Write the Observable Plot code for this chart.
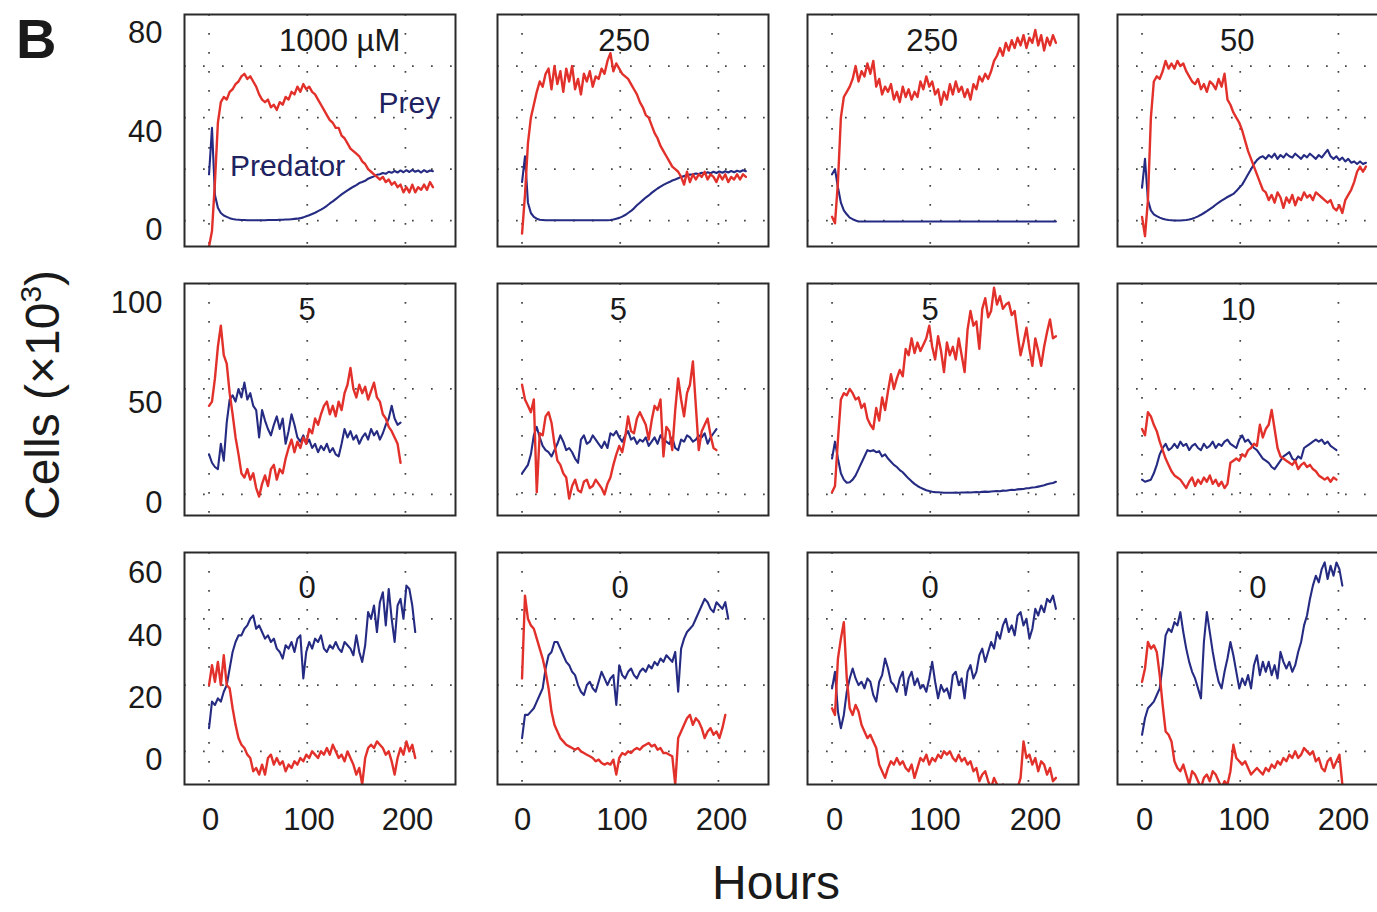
<!DOCTYPE html>
<html><head><meta charset="utf-8">
<script src="https://cdn.jsdelivr.net/npm/d3@7"></script>
<script src="https://cdn.jsdelivr.net/npm/@observablehq/plot@0.6"></script>
<style>
html,body{margin:0;padding:0;background:#fff;overflow:hidden;}
#root{position:relative;width:1377px;height:912px;overflow:hidden;font-family:"Liberation Sans",Arial,sans-serif;background:#fff;}
#root svg{position:absolute;left:0;top:0;max-width:none !important;background:transparent !important;overflow:visible;}
.lbl{position:absolute;color:#1a1a1a;white-space:nowrap;line-height:1;}
</style></head><body><div id="root"></div>
<script>
// ---------- data ----------
const STEP = 3; // hours between samples
const titles = ["1000 µM","250","250","50","5","5","5","10","0","0","0","0"];
const titleHours = [133,104,102,97,100,98,100,98,100,100,100,118];
const yDomains = [[-10,80],[-10,100],[-10,60]];
const yGrid = [[0,20,40,60],[0,50],[0,20,40]];
const yLabelTicks = [[0,40,80],[0,50,100],[0,20,40,60]];
const xTicks = [0,100,200];
const annoText = ["Prey","Predator"];
const annoHour = [204, 80];
const annoCells = [45.5, 21];

const prey1 = [-10,-4,15,38,46,48,47,50,51,53,54,56,57,55,56,54,52,49,47,46,47,44,45,43,46,45,48,47,50,49,52,50,53,51,52,50,49,47,45,43,41,39,38,36,36,33,32,30,28,27,26,25,23,22,20,19,18,17,16,17,15,16,14,15,13,14,11,13,11,14,11,13,12,14,12,15,13];
const pred1 = [18,36,10,5,3,2,1.5,1,0.7,0.5,0.4,0.3,0.3,0.2,0.2,0.2,0.2,0.2,0.2,0.2,0.3,0.3,0.3,0.3,0.4,0.4,0.5,0.5,0.6,0.7,0.8,1.0,1.3,1.7,2.1,2.6,3.1,3.7,4.3,5.0,5.8,6.7,7.5,8.4,9.3,10.2,11,11.8,12.5,13.2,13.8,14.6,15,15.5,16.3,16.8,17.2,17.8,18,18.5,18.2,19,18.6,19.3,18.7,19.5,18.8,19.6,18.9,19.7,19,19.5,18.7,19.6,18.9,19.5,19.2];
const prey2 = [-5,10,30,40,45,50,54,52,57,59,51,60,53,58,50,59,54,60,51,55,49,57,54,58,52,56,55,59,57,62,65,58,61,59,57,56,55,53,51,49,46,44,41,40,37,34,32,29,27,25,23,21,20,19,17,14,19,15,18,16,18,17,19,16,18,17,15,18,16,18,15,17,16,18,16,18,17];
const pred2 = [15,25,7,3,1.5,0.8,0.4,0.3,0.2,0.2,0.2,0.2,0.2,0.2,0.2,0.2,0.2,0.2,0.2,0.2,0.2,0.2,0.2,0.2,0.2,0.2,0.2,0.2,0.2,0.2,0.3,0.5,0.8,1.1,1.6,2.2,3,3.8,4.8,6,7,8,9,9.8,10.8,11.7,12.5,13.2,13.9,14.5,15,15.6,16,16.5,17,17.3,17.6,17.9,18,18.3,18.1,18.6,18.2,18.8,18.4,19,18.5,19.1,18.6,19.2,18.7,19.3,18.8,19.4,19,19.6,19.2];
const prey3 = [1.5,-1,15,40,48,50,52,55,60,54,58,56,61,57,62,52,55,49,52,50,53,47,50,46,52,48,51,47,50,48,54,51,56,52,54,49,51,45,50,47,53,49,54,50,52,48,51,47,53,51,56,54,57,55,58,62,64,67,64,69,66,70,67,71,68,72,67,71,69,74,68,72,66,71,68,72,69];
const pred3 = [18,20,13,7,4,2.5,1.2,0.6,0.1,-0.3,-0.3,-0.3,-0.3,-0.3,-0.3,-0.3,-0.3,-0.3,-0.3,-0.3,-0.3,-0.3,-0.3,-0.3,-0.3,-0.3,-0.3,-0.3,-0.3,-0.3,-0.3,-0.3,-0.3,-0.3,-0.3,-0.3,-0.3,-0.3,-0.3,-0.3,-0.3,-0.3,-0.3,-0.3,-0.3,-0.3,-0.3,-0.3,-0.3,-0.3,-0.3,-0.3,-0.3,-0.3,-0.3,-0.3,-0.3,-0.3,-0.3,-0.3,-0.3,-0.3,-0.3,-0.3,-0.3,-0.3,-0.3,-0.3,-0.3,-0.3,-0.3,-0.3,-0.3,-0.3,-0.3,-0.3,-0.3];
const prey4 = [1.5,-6,8,40,54,56,55,58,62,59,61,59,62,60,61,58,56,54,53,55,51,53,50,54,53,51,55,52,57,47,45,42,40,38,35,31,27,24,21,18,15,12,11,8,10,7,11,9,5,9,7,10,6,9,8,11,9,10,8,11,10,9,8,7,8,5,4,6,3,8,10,12,15,19,21,19,21];
const pred4 = [12.8,24,8,4,2.5,1.8,1.2,0.8,0.5,0.3,0.2,0.1,0.1,0.1,0.2,0.3,0.5,0.8,1.2,1.7,2.3,3,3.7,4.5,5.3,6.2,7,7.8,8.5,9.2,9.8,10.4,11.5,12.8,14,16,18,20,22,23.5,24.5,25,24,25.5,24.5,26,24,25.5,24.5,26,25,24.5,26,25,24,25.5,24.6,26,25,24,25.5,24.5,26,27.5,25,24,25,23.5,24.5,23,24,22.5,23,22,23,22,22.5];

const prey5 = [42,44,55,70,80,66,62,48,38,27,19,10,8,12,7,10,3,-1,5,9,4,12,14,7,12,10,17,22,26,20,25,22,27,24,31,29,36,33,38,42,44,38,42,37,44,40,48,52,60,50,46,52,48,51,45,49,53,46,44,38,36,32,30,27,24,15];
const pred5 = [19,15,13,12,24,16,34,45,47,44,50,46,53,45,48,42,40,27,40,35,31,28,33,37,31,36,24,30,38,33,27,25,28,24,26,22,24,20,23,21,24,20,22,19,18,24,31,27,30,26,28,24,27,29,26,31,28,30,26,29,33,36,42,36,33,34];
const prey6 = [52,45,42,39,45,1,29,28,37,39,34,24,16,14,10,8,-2,4,7,2,1,6,7,3,4,7,5,3,0,5,8,14,19,23,20,27,37,30,29,36,39,36,33,26,35,42,40,45,18,32,30,21,40,55,45,37,48,52,63,42,21,30,33,36,28,22,21];
const pred6 = [10,12,14,19,28,32,27,23,21,20,18,21,24,28,25,21,22,20,17,15,26,28,24,25,28,26,24,22,25,22,29,28,30,27,25,28,30,26,27,24,26,25,27,23,25,27,24,28,26,25,24,27,22,21,26,25,28,27,25,26,28,27,29,24,27,29,31];
const prey7 = [1,4,26,45,48,47,50,48,45,46,41,43,36,33,31,41,35,46,40,49,57,50,55,59,56,69,66,74,67,72,68,71,74,80,70,64,75,68,58,72,66,70,64,74,66,58,78,87,80,82,69,88,93,84,87,98,90,94,88,90,91,85,87,76,66,72,79,69,61,74,68,61,70,77,83,74,75];
const pred7 = [17,25,17,10,7,5.5,5.8,7,9,12,15,18,21,20.5,21,20,20.5,18,19,17,15.5,14,13,11.5,10.5,9,7.5,6.2,5,4,3.2,2.6,2,1.6,1.3,1.1,1,0.9,0.8,0.8,0.8,0.8,0.9,0.8,0.9,0.9,1,0.9,1,1.1,1,1.2,1.3,1.2,1.4,1.5,1.6,1.5,1.8,1.7,2,2.2,2.1,2.4,2.5,2.6,2.9,3,3.3,3.4,3.7,4,4.3,4.8,5.2,5.4,6];
const prey8 = [31,28,39,37,33,30,25,21,17,14,11,9,8,7,5,3,6,8,4,7,5,8,6,9,5,7,4,6,3,5,15,16,17,16,19,18,21,22,24,23,33,27,31,33,40,31,22,18,17,16,15,14,16,12,14,15,13,14,12,11,9,8,7,8,6,8,7];
const pred8 = [7,6,6.5,7,10,14,19,22,24,21,22,24,22,25,23,24,21,23,24,22,21,24,22,23,25,22,24,23,25,26,24,23,22,26,28,25,26,24,22,21,19,17,16,15,13,12,14,16,18,19,20,17,16,18,17,22,23,24,25,26,25,26,24,25,23,22,21];

const prey9 = [20,26,21,27,20,29,20,19,13,8,4,2,1,-1,-2,-6,-5,-7,-4,-7,-2,-1,-4,-2,-4,-3,-6,-4,-5,-3,-4,-2,-3,-1,-2,0,-1,-2,0,-1,1,-1,2,0,-2,-1,-3,0,-2,-4,-7,-5,-10,-2,1,2,1,3,2,1,-1,0,-3,-7,-2,1,-1,3,0,2,-2];
const pred9 = [7,15,14,16,15,18,20,25,30,33,35,35,37,38,40,41,37,38,36,34,35,33,34,31,30,28,32,31,33,30,34,35,22,30,33,31,34,33,35,31,30,32,31,33,31,30,33,32,31,29,35,30,27,32,42,40,44,36,45,48,38,49,40,33,44,46,40,50,49,44,36];
const prey10 = [22,47,40,38,37,34,31,28,24,19,12,8,6,4,3,2,1.5,1,0.5,1,0,-0.5,-1,-1.5,-2,-3,-2.5,-3.5,-4,-3.5,-4,-2.5,-7,-2,-0.5,-1,0,-0.5,0.5,1,0.5,1.5,2,2.5,1.5,2,0.5,1,-0.5,-0.5,-1,-1.5,-10,4,6,8,10,11,8,10,9,7,4,6,7,5,6,4,7,11];
const pred10 = [4,11,11,12,13,15,17,19,25,29,30,33,33,31,29,27,26,24,23,20,18,17,20,21,19,18,21,24,22,20,22,23,14,26,23,22,24,25,23,22,24,25,24,26,25,27,26,28,27,29,28,27,30,18,31,34,36,37,38,40,42,44,46,45,43,42,45,44,43,45,40];
const prey11 = [13,11,28,34,39,22,13,11,14,12,8,6,4,5,3,1,-4,-6,-8,-5,-3,-4,-2,-4,-3,-5,-6,-4,-8,-5,-2,-3,-1,-4,-2,-3,-1,-2,0,-1,0,-2,-3,-1,-3,-2,-4,-3,-6,-5,-9,-7,-6,-9,-11,-8,-10,-12,-10,-12,-11,-12,-12,-11,-8,3,-2,-1,-4,-2,-6,-3,-4,-7,-5,-9,-8];
const pred11 = [19,24,12,7,11,18,22,25,22,20,21,19,22,21,17,15,21,23,28,25,21,20,18,22,24,17,22,24,20,22,19,20,18,22,27,21,16,20,18,19,16,23,24,20,22,16,24,26,22,24,29,31,27,30,33,31,36,34,38,40,36,38,35,41,42,38,40,34,37,43,41,44,42,46,45,47,43];
const prey12 = [21,25,33,31,32,30,23,14,6,5,3,-3,-5,-6,-4,-7,-10,-6,-7,-9,-11,-8,-7,-9,-6,-7,-9,-11,-9,-10,-6,2,-2,-3,-4,-3,-5,-7,-6,-5,-6,-7,-5,-6,-4,-5,-3,-4,-2,-3,-1,-2,0,-2,-1,1,0,-1,0,-3,-2,-5,-6,-3,-2,-5,-3,-1,-10];
const pred12 = [5,10,13,14,15,17,19,26,35,37,36,39,38,42,36,31,27,24,22,19,16,33,42,36,30,25,21,19,24,28,33,29,24,19,22,20,23,19,26,29,23,27,24,27,23,26,22,30,27,25,27,24,26,30,33,38,41,46,50,53,51,55,57,52,56,53,57,55,50];

const preyAll = [prey1,prey2,prey3,prey4,prey5,prey6,prey7,prey8,prey9,prey10,prey11,prey12];
const predAll = [pred1,pred2,pred3,pred4,pred5,pred6,pred7,pred8,pred9,pred10,pred11,pred12];

// ---------- layout ----------
const RED = "#e2302b", BLUE = "#252b82", INK = "#1a1a1a";
const W = 1400, H = 912, PW = 271, PH = 232;
const colLeft = [184, 497, 807, 1117];
const rowTop = [14, 283, 552];
const xDomain = [-25, 251];
const titleDy = [27, 27, 36];
const yLabelRange = [[230,33],[503,303],[760,573]];
const xLabelRange = [[210,407],[522,721],[834,1035],[1144,1343]];
const FONT = "'Liberation Sans', Arial, sans-serif";
const baseStyle = {background: "transparent", overflow: "visible", fontFamily: FONT};

const series = vals => vals.map((v, i) => ({hour: i * STEP, cells: v}));
const root = document.getElementById("root");

for (let k = 0; k < 12; k++) {
  const r = Math.floor(k / 4), c = k % 4;
  const L = colLeft[c], T = rowTop[r];
  const marks = [
    Plot.ruleX(xTicks, {stroke: "#444", strokeWidth: 1.7, strokeDasharray: "1.7,17.3"}),
    Plot.ruleY(yGrid[r], {stroke: "#444", strokeWidth: 1.7, strokeDasharray: "1.7,17.3"}),
    Plot.line(series(predAll[k]), {x: "hour", y: "cells", stroke: BLUE, strokeWidth: 2.1, clip: true}),
    Plot.line(series(preyAll[k]), {x: "hour", y: "cells", stroke: RED, strokeWidth: 2.4, clip: true}),
    Plot.text([{h: titleHours[k], t: titles[k]}], {x: "h", text: "t", frameAnchor: "top", lineAnchor: "middle", dy: titleDy[r], fontSize: 31, fill: INK}),
    Plot.frame({stroke: "#2a2a2a", strokeWidth: 2})
  ];
  if (k === 0) {
    marks.push(Plot.text(annoText.map((t, i) => ({t, h: annoHour[i], v: annoCells[i]})),
      {x: "h", y: "v", text: "t", fontSize: 30, fill: "#1e2260"}));
  }
  root.appendChild(Plot.plot({
    width: W, height: H,
    marginLeft: L, marginRight: W - L - PW, marginTop: T, marginBottom: H - T - PH,
    x: {domain: xDomain, axis: null},
    y: {domain: yDomains[r], axis: null},
    style: baseStyle,
    marks
  }));
}

// y tick labels per row
for (let r = 0; r < 3; r++) {
  const ticks = yLabelTicks[r];
  root.appendChild(Plot.plot({
    width: W, height: H, margin: 0,
    y: {domain: [ticks[0], ticks[ticks.length - 1]], range: yLabelRange[r], axis: null},
    style: baseStyle,
    marks: [Plot.text(ticks, {y: d => d, text: d => String(d), frameAnchor: "left", lineAnchor: "middle", dx: 162, textAnchor: "end", fontSize: 31, fill: INK})]
  }));
}
// x tick labels per column
for (let c = 0; c < 4; c++) {
  root.appendChild(Plot.plot({
    width: W, height: H, margin: 0,
    x: {domain: [0, 200], range: xLabelRange[c], axis: null},
    style: baseStyle,
    marks: [Plot.text(xTicks, {x: d => d, text: d => String(d), frameAnchor: "top", lineAnchor: "middle", dy: 820, fontSize: 31, fill: INK})]
  }));
}

// figure-level text
const add = (html, css) => { const d = document.createElement("div"); d.className = "lbl"; d.innerHTML = html; Object.assign(d.style, css); root.appendChild(d); };
add("B", {left: "16px", top: "11px", fontSize: "56px", fontWeight: "bold"});
add("Hours", {left: "776px", top: "864px", fontSize: "48px", lineHeight: "0.8", transform: "translateX(-50%)"});
add("Cells (×10<sup style='font-size:0.62em;vertical-align:0.6em;line-height:0'>3</sup>)", {left: "43px", top: "395px", fontSize: "48px", transform: "translate(-50%,-50%) rotate(-90deg)"});
</script>
</body></html>
